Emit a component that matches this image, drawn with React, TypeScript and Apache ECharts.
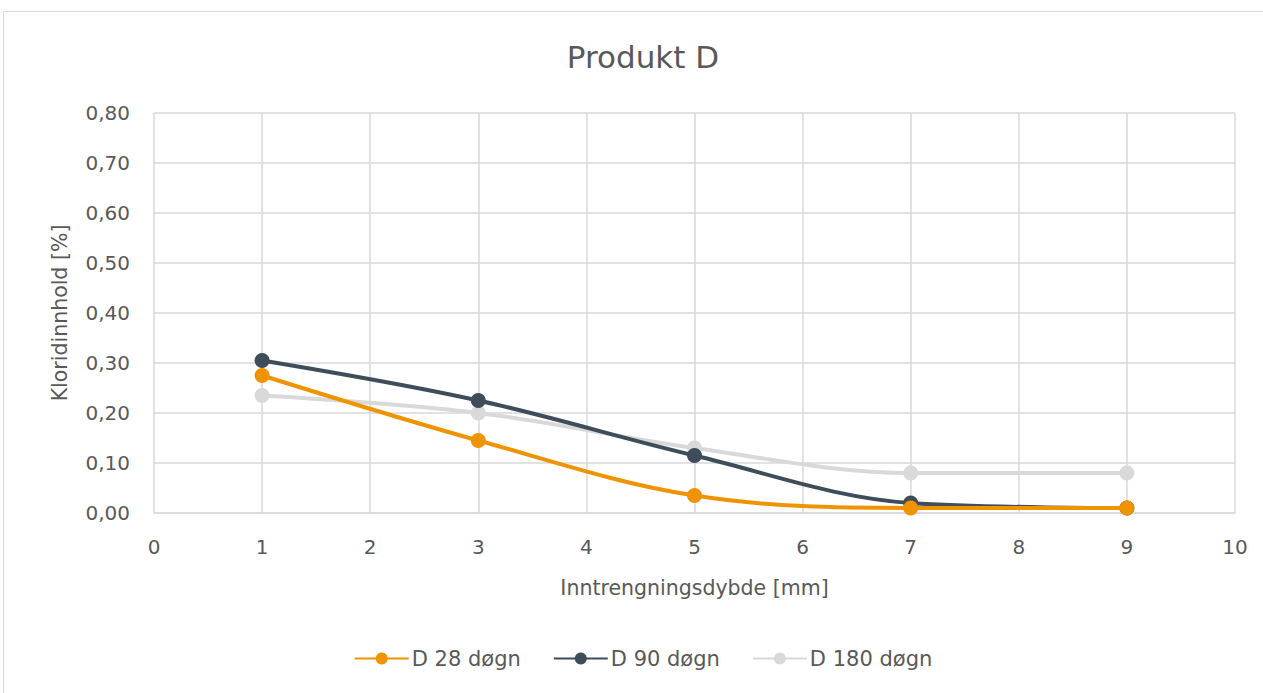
import React, { useEffect, useRef } from "react";
import * as echarts from "echarts";

const depths = [1, 3, 5, 7, 9];
const d28 = [0.275, 0.145, 0.035, 0.01, 0.01];
const d90 = [0.305, 0.225, 0.115, 0.02, 0.01];
const d180 = [0.235, 0.2, 0.13, 0.08, 0.08];
const seriesNames = ["D 28 døgn", "D 90 døgn", "D 180 døgn"];
const colors = ["#F09300", "#3E4D59", "#D9D9D9"];

const FONT = "DejaVu Sans";
const TXT = "#595959";
const W = 1286;

export default function App() {
  const ref = useRef<HTMLDivElement>(null);
  useEffect(() => {
    const chart = echarts.init(ref.current!, null, { renderer: "svg" });
    const all = [d28, d90, d180];
    chart.setOption({
      animation: false,
      backgroundColor: "#fff",
      title: {
        text: "Produkt D",
        left: "center",
        top: 36,
        textStyle: { fontFamily: FONT, fontSize: 31, fontWeight: "normal", color: TXT },
      },
      graphic: [
        {
          type: "rect",
          shape: { x: 3.5, y: 11.5, width: 1290, height: 700 },
          style: { fill: "none", stroke: "#D9D9D9", lineWidth: 1 },
          silent: true,
        },
      ],
      legend: {
        bottom: 19,
        left: "center",
        itemWidth: 54,
        itemHeight: 15,
        itemGap: 32,
        textStyle: { fontFamily: FONT, fontSize: 21, color: TXT, padding: [0, 0, 0, -2] },
        data: seriesNames,
      },
      grid: { left: 154, right: W - 1235, top: 113, bottom: 180 },
      xAxis: {
        type: "value",
        min: 0,
        max: 10,
        interval: 1,
        name: "Inntrengningsdybde [mm]",
        nameLocation: "middle",
        nameGap: 64,
        nameTextStyle: { fontFamily: FONT, fontSize: 20.5, color: TXT },
        axisLine: { show: true, lineStyle: { color: "#D9D9D9", width: 1.5 } },
        axisTick: { show: false },
        axisLabel: { fontFamily: FONT, fontSize: 20, color: TXT, margin: 24 },
        splitLine: { show: true, lineStyle: { color: "#D9D9D9", width: 1.5 } },
      },
      yAxis: {
        type: "value",
        min: 0,
        max: 0.8,
        interval: 0.1,
        name: "Kloridinnhold [%]",
        nameLocation: "middle",
        nameGap: 84,
        nameTextStyle: { fontFamily: FONT, fontSize: 20.5, color: TXT },
        axisLine: { show: false },
        axisTick: { show: false },
        axisLabel: {
          fontFamily: FONT,
          fontSize: 20,
          color: TXT,
          margin: 24,
          formatter: (v: number) => v.toFixed(2).replace(".", ","),
        },
        splitLine: { show: true, lineStyle: { color: "#D9D9D9", width: 1.5 } },
      },
      series: all.map((d, i) => ({
        name: seriesNames[i],
        type: "line",
        smooth: 0.35,
        data: depths.map((x, j) => [x, d[j]]),
        symbol: "circle",
        symbolSize: 15,
        lineStyle: { width: 4, color: colors[i] },
        itemStyle: { color: colors[i] },
        z: 3 - i,
      })),
    });
    return () => chart.dispose();
  }, []);
  return (
    <div
      style={{
        position: "absolute",
        left: 0,
        top: 0,
        width: 1263,
        height: 693,
        overflow: "hidden",
      }}
    >
      <div ref={ref} style={{ width: W, height: 693 }} />
    </div>
  );
}
